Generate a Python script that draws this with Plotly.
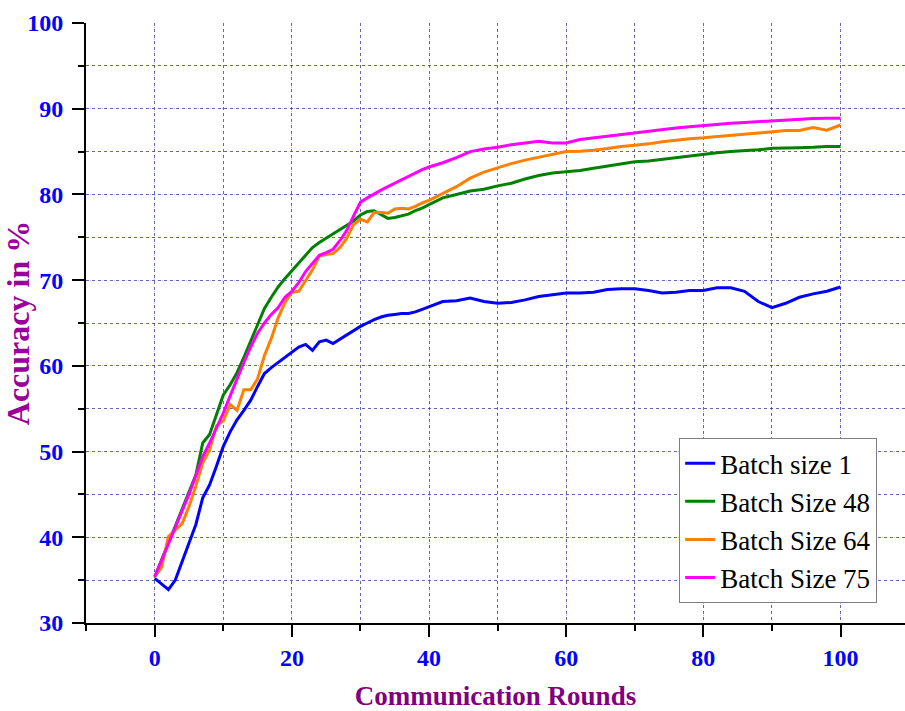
import plotly.graph_objects as go

# Communication rounds: every round up to 40, then every second round
rounds = list(range(0, 41)) + list(range(42, 101, 2))

acc_bs1 = [35.2, 34.5, 33.9, 35.0, 37.2, 39.3, 41.5, 44.6, 46.1, 48.3,
           50.6, 52.3, 53.7, 54.8, 56.0, 57.6, 59.1, 59.8, 60.4, 61.0,
           61.6, 62.2, 62.5, 61.8, 62.8, 63.0, 62.6, 63.1, 63.7, 64.2,
           64.6, 65.0, 65.4, 65.7, 65.9, 66.0, 66.1, 66.1, 66.3, 66.6,
           66.9,
           67.5, 67.6, 67.9, 67.5, 67.3, 67.4, 67.7, 68.1, 68.3, 68.5,
           68.5, 68.6, 68.9, 69.0, 69.0, 68.8, 68.5, 68.6, 68.8, 68.8,
           69.1, 69.1, 68.7, 67.5, 66.8, 67.3, 68.0, 68.4, 68.7, 69.2]

acc_bs48 = [35.4, 37.3, 39.3, 41.3, 43.3, 45.3, 47.3, 51.0, 52.0, 54.3,
            56.6, 57.8, 59.2, 61.0, 62.9, 64.8, 66.7, 68.0, 69.2, 70.2,
            71.1, 72.1, 73.0, 73.8, 74.4, 74.9, 75.4, 75.8, 76.3, 76.9,
            77.6, 78.0, 78.1, 77.6, 77.2, 77.3, 77.5, 77.7, 78.1, 78.4,
            78.8,
            79.6, 80.0, 80.4, 80.6, 81.0, 81.3, 81.8, 82.2, 82.5, 82.65,
            82.8, 83.05, 83.3, 83.6, 83.8, 83.9, 84.1, 84.3, 84.5, 84.7,
            84.85, 85.0, 85.1, 85.2, 85.4, 85.4, 85.45, 85.5, 85.6, 85.6]

acc_bs64 = [35.4, 36.5, 40.1, 40.8, 41.6, 43.6, 46.0, 48.7, 50.2, 53.0,
            53.6, 55.5, 54.8, 57.2, 57.2, 58.5, 61.2, 63.2, 65.6, 67.4,
            68.6, 68.7, 69.9, 71.2, 72.8, 73.0, 73.1, 73.8, 74.9, 76.5,
            77.1, 76.8, 77.9, 77.9, 77.8, 78.3, 78.4, 78.3, 78.6, 79.0,
            79.3,
            80.1, 80.9, 81.9, 82.6, 83.1, 83.6, 84.0, 84.35, 84.7, 85.0,
            85.05, 85.15, 85.35, 85.6, 85.75, 85.9, 86.15, 86.35, 86.5, 86.6,
            86.75, 86.9, 87.05, 87.2, 87.35, 87.45, 87.45, 87.8, 87.5, 88.1]

acc_bs75 = [35.4, 37.3, 39.1, 41.0, 43.0, 45.0, 47.2, 49.4, 51.0, 52.7,
            54.5, 56.5, 58.5, 60.4, 62.2, 63.8, 65.0, 66.0, 66.8, 68.0,
            68.7, 69.7, 71.0, 72.0, 72.9, 73.2, 73.6, 74.6, 75.8, 77.5,
            79.1, 79.6, 80.1, 80.5, 80.9, 81.3, 81.7, 82.1, 82.5, 82.9,
            83.2,
            83.7, 84.3, 85.0, 85.3, 85.5, 85.8, 86.0, 86.2, 86.0, 86.0,
            86.4, 86.6, 86.8, 87.0, 87.15, 87.35, 87.55, 87.75, 87.9, 88.05,
            88.15, 88.3, 88.4, 88.5, 88.55, 88.65, 88.75, 88.85, 88.9, 88.9]

series_names = ["Batch size 1", "Batch Size 48", "Batch Size 64", "Batch Size 75"]
series_values = [acc_bs1, acc_bs48, acc_bs64, acc_bs75]
series_colors = ["#0000FF", "#008000", "#FF8000", "#FF00FF"]

x_ticks = [0, 20, 40, 60, 80, 100]
y_ticks = [30, 40, 50, 60, 70, 80, 90, 100]

SERIF = "Liberation Serif"
MAJOR_GRID = "rgba(100,100,200,0.45)"
MINOR_GRID = "rgba(50,50,150,0.75)"

fig = go.Figure()
for name, vals, color in zip(series_names, series_values, series_colors):
    fig.add_trace(go.Scatter(
        x=rounds, y=vals, mode="lines", name=name,
        legendgroup=name,
        line=dict(color=color, width=3),
    ))

fig.update_layout(
    width=905, height=711,
    margin=dict(l=86, r=0, t=23, b=88),
    paper_bgcolor="white", plot_bgcolor="white",
    font=dict(family=SERIF),
    showlegend=True,
    legend=dict(
        x=0.966, y=0.033, xanchor="right", yanchor="bottom",
        bgcolor="white", bordercolor="#808080", borderwidth=1,
        font=dict(family=SERIF, size=27, color="black"),
        tracegroupgap=0,
    ),
    xaxis=dict(
        range=[-10.02, 109.4],
        tickvals=x_ticks,
        ticks="outside", ticklen=12, tickwidth=2, tickcolor="black",
        showline=True, linewidth=2, linecolor="black",
        showgrid=True, gridcolor=MAJOR_GRID, gridwidth=1, griddash="1px,3px",
        zeroline=False,
        minor=dict(dtick=10, tick0=0, ticks="outside", ticklen=6, tickwidth=2,
                   tickcolor="black", showgrid=True, gridcolor=MINOR_GRID,
                   gridwidth=1, griddash="3px,3px"),
        tickfont=dict(family=SERIF, size=24, color="#0000FF", weight="bold"),
        title=dict(text="Communication Rounds", standoff=18,
                   font=dict(family=SERIF, size=27, color="#800080", weight="bold")),
    ),
    yaxis=dict(
        range=[30, 100],
        tickvals=y_ticks,
        ticks="outside", ticklen=12, tickwidth=2, tickcolor="black",
        ticklabelstandoff=4,
        showline=True, linewidth=2, linecolor="black",
        showgrid=True, gridcolor=MAJOR_GRID, gridwidth=1, griddash="1px,3px",
        zeroline=False,
        minor=dict(dtick=5, tick0=0, ticks="outside", ticklen=6, tickwidth=2,
                   tickcolor="black", showgrid=True, gridcolor=MINOR_GRID,
                   gridwidth=1, griddash="3px,3px"),
        tickfont=dict(family=SERIF, size=24, color="#0000FF", weight="bold"),
        title=dict(text="Accuracy in %", standoff=4,
                   font=dict(family=SERIF, size=32, color="#990099", weight="bold")),
    ),
    # frame on top (inward ticks) and on the right (inward ticks)
    xaxis2=dict(
        overlaying="x", side="top", range=[-10.02, 109.4],
        tickmode="linear", tick0=0, dtick=10,
        ticks="inside", ticklen=10, tickwidth=2, tickcolor="black",
        showline=True, linewidth=2, linecolor="black",
        showgrid=False, zeroline=False, showticklabels=False,
    ),
    yaxis2=dict(
        overlaying="y", side="right", range=[30, 100],
        tickmode="linear", tick0=30, dtick=5,
        ticks="inside", ticklen=7, tickwidth=2, tickcolor="black",
        showline=False, showgrid=False, zeroline=False, showticklabels=False,
    ),
)

fig.write_html("out.html")
